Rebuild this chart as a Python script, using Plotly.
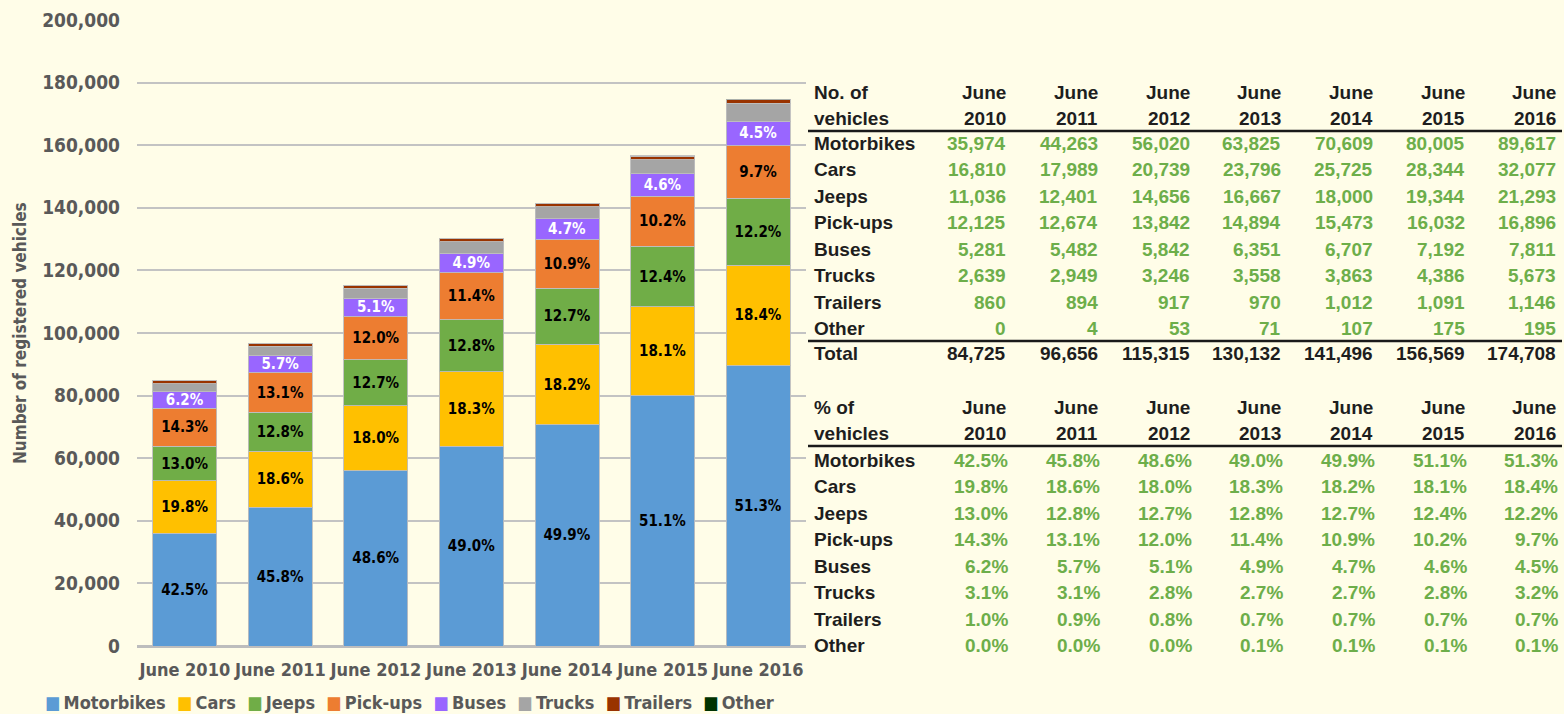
import plotly.graph_objects as go

# ---------------- data ----------------
categories = ["June 2010", "June 2011", "June 2012", "June 2013", "June 2014", "June 2015", "June 2016"]
series_names = ["Motorbikes", "Cars", "Jeeps", "Pick-ups", "Buses", "Trucks", "Trailers", "Other"]
motorbikes = [35974, 44263, 56020, 63825, 70609, 80005, 89617]
cars = [16810, 17989, 20739, 23796, 25725, 28344, 32077]
jeeps = [11036, 12401, 14656, 16667, 18000, 19344, 21293]
pickups = [12125, 12674, 13842, 14894, 15473, 16032, 16896]
buses = [5281, 5482, 5842, 6351, 6707, 7192, 7811]
trucks = [2639, 2949, 3246, 3558, 3863, 4386, 5673]
trailers = [860, 894, 917, 970, 1012, 1091, 1146]
other = [0, 4, 53, 71, 107, 175, 195]
y_ticks = [0, 20000, 40000, 60000, 80000, 100000, 120000, 140000, 160000, 180000, 200000]

series_values = [motorbikes, cars, jeeps, pickups, buses, trucks, trailers, other]
totals = [sum(col) for col in zip(*series_values)]
percents = [[v / t * 100 for v, t in zip(s, totals)] for s in series_values]

# ---------------- styles ----------------
colors = ["#5B9BD5", "#FFC000", "#70AD47", "#ED7D31", "#9966FF", "#A5A5A5", "#993300", "#003300"]
label_colors = ["black", "black", "black", "black", "white", None, None, None]
BG = "#FFFDE8"
CHART_FONT = "DejaVu Sans Condensed, DejaVu Sans, sans-serif"
TABLE_FONT = "Liberation Sans, Arial, sans-serif"
GRAY = "#595959"
GREEN = "#6DAE4A"
DARK = "#1E1E1E"

W, H = 1564, 714
ML, MT, MB, MR = 137, 20, 68, 4
PW = W - ML - MR
PH = H - MT - MB


def xp(px):
    return (px - ML) / PW


def yp(py):
    return (H - MB - py) / PH


fig = go.Figure()
for name, vals, pct, col, lc in zip(series_names, series_values, percents, colors, label_colors):
    kw = {}
    if lc is not None:
        kw = dict(
            text=[f"{p:.1f}%" for p in pct],
            textposition="inside",
            insidetextanchor="middle",
            textangle=0,
            constraintext="none",
            textfont=dict(family=CHART_FONT, size=15, color=lc, weight="bold"),
        )
    fig.add_trace(go.Bar(
        x=categories, y=vals, name=name,
        marker=dict(color=col, line=dict(color="rgba(190,190,190,0.9)", width=1)),
        showlegend=False, **kw))

fig.update_layout(
    barmode="stack",
    bargap=0.33,
    width=W, height=H,
    paper_bgcolor=BG, plot_bgcolor=BG,
    margin=dict(l=ML, r=MR, t=MT, b=MB, autoexpand=False),
    xaxis=dict(domain=[0, 669 / PW], range=[-0.5, 6.5], showgrid=False, showline=False,
               ticks="", ticklabelstandoff=11,
               tickfont=dict(family=CHART_FONT, size=18, color=GRAY, weight="bold")),
    yaxis=dict(range=[0, 200000], tickvals=y_ticks, tickformat=",d",
               showgrid=True, gridcolor="#C3C3C3", gridwidth=1.5,
               zeroline=True, zerolinecolor="#BDBDBD", zerolinewidth=2.5,
               ticks="", ticklabelstandoff=16,
               tickfont=dict(family=CHART_FONT, size=19, color=GRAY, weight="bold")),
    showlegend=False,
)

annotations = []
shapes = []

# y-axis title
annotations.append(dict(x=xp(20), y=yp(333), xref="paper", yref="paper", text="Number of registered vehicles",
                        textangle=-90, showarrow=False, xanchor="center", yanchor="middle",
                        font=dict(family=CHART_FONT, size=17, color=GRAY, weight="bold")))

# legend (custom, compact)
leg_text = "  ".join(f"<span style='color:{c}'>■</span>\u2009{n}" for n, c in zip(series_names, colors))
annotations.append(dict(x=xp(43), y=yp(702), xref="paper", yref="paper", text=leg_text,
                        showarrow=False, xanchor="left", yanchor="middle",
                        font=dict(family=CHART_FONT, size=18, color=GRAY, weight="bold")))

# ---------------- tables ----------------
col_right = [1008, 1100, 1192, 1283, 1375, 1467, 1558]
label_x = 812
row_h = 26.5


def txt(px, py, s, color=DARK, anchor="right"):
    annotations.append(dict(x=xp(px), y=yp(py), xref="paper", yref="paper", text=s, showarrow=False,
                            xanchor=anchor, yanchor="middle",
                            font=dict(family=TABLE_FONT, size=19, color=color, weight="bold")))


def hline(py):
    shapes.append(dict(type="line", xref="paper", yref="paper", x0=xp(808), x1=xp(1562),
                       y0=yp(py), y1=yp(py), line=dict(color="#1A1A1A", width=2.5)))


years = [c.split(" ")[1] for c in categories]

# table 1: counts
txt(label_x, 92, "No. of", anchor="left")
txt(label_x, 118, "vehicles", anchor="left")
for cx, yr in zip(col_right, years):
    txt(cx, 92, "June")
    txt(cx, 118, yr)
hline(131)
for i, (name, vals) in enumerate(zip(series_names, series_values)):
    py = 143 + i * row_h
    txt(label_x, py, name, anchor="left")
    for cx, v in zip(col_right, vals):
        txt(cx, py, f"{v:,}", color=GREEN)
hline(341)
txt(label_x, 354, "Total", anchor="left")
for cx, t in zip(col_right, totals):
    txt(cx, 354, f"{t:,}")

# table 2: percentages
txt(label_x, 407, "% of", anchor="left")
txt(label_x, 433, "vehicles", anchor="left")
for cx, yr in zip(col_right, years):
    txt(cx, 407, "June")
    txt(cx, 433, yr)
hline(446)
for i, (name, pct) in enumerate(zip(series_names, percents)):
    py = 460 + i * row_h
    txt(label_x, py, name, anchor="left")
    for cx, p in zip(col_right, pct):
        txt(cx + 2, py, f"{p:.1f}%", color=GREEN)

fig.update_layout(annotations=annotations, shapes=shapes)
fig.write_html(
    "out.html",
    config={"displayModeBar": False},
    post_script="document.body.style.margin='0';document.body.style.padding='0';"
                "document.body.style.overflow='hidden';document.body.style.background='#FFFDE8';",
)
